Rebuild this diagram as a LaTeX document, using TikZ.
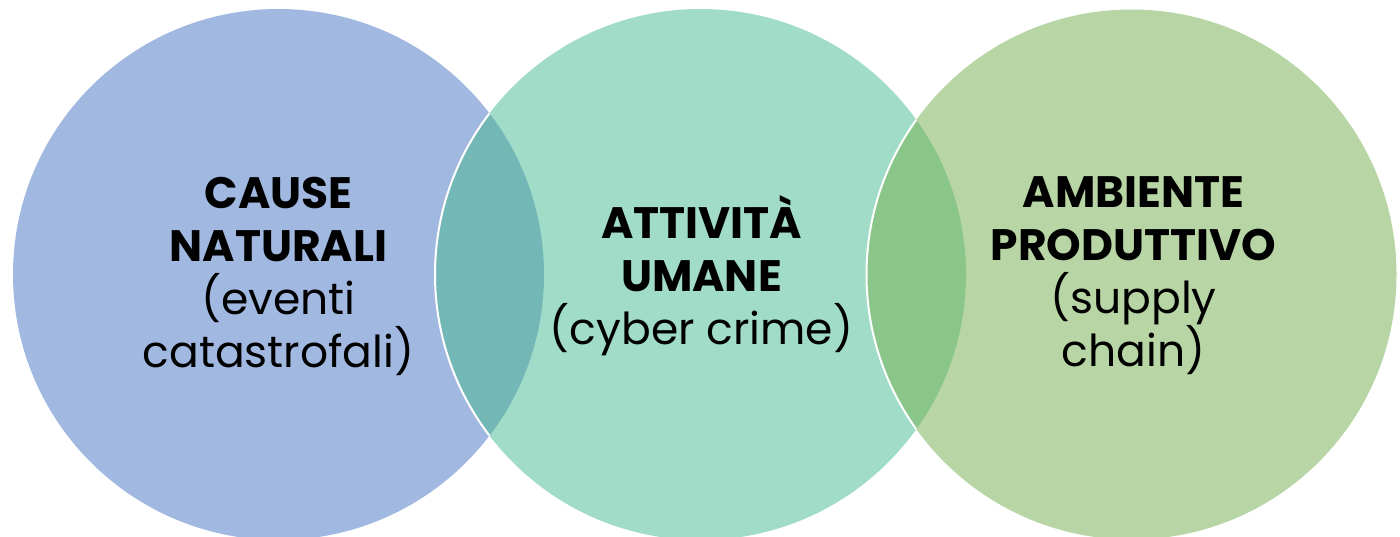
\documentclass[tikz,border=0pt]{standalone}
\usepackage{fontspec}
\setmainfont{Poppins}
\definecolor{cblue}{HTML}{A1B8E0}
\definecolor{cteal}{HTML}{A0DCC7}
\definecolor{cgreen}{HTML}{B8D6A5}
\definecolor{lensA}{HTML}{73B8B6}
\definecolor{lensB}{HTML}{8AC68A}
\tikzset{
  lbl/.style={align=center, text=black, inner sep=0pt, font=\fontsize{44}{53}\selectfont},
  edge/.style={draw=white, line width=2pt}
}
\begin{document}
\begin{tikzpicture}[x=1pt,y=-1pt]
\useasboundingbox (0,0) rectangle (1400,536);
\coordinate (cL) at (278.5,274.5);
\coordinate (cM) at (700.5,274.5);
\coordinate (cR) at (1131.5,274.5);
\begin{scope}
\clip (0,0) rectangle (1400,536);
\fill[cblue] (cL) circle (265.5);
\fill[cteal] (cM) circle (265.5);
\fill[cgreen] (cR) circle (265);
\begin{scope}
  \clip (cL) circle (265.5);
  \fill[lensA] (cM) circle (265.5);
  \draw[edge] (cM) circle (265.5);
\end{scope}
\begin{scope}
  \clip (cM) circle (265.5);
  \fill[lensB] (cR) circle (265);
  \draw[edge] (cR) circle (265);
\end{scope}
\end{scope}
\node[lbl] (tL) at (278.5,276) {\textbf{CAUSE}\\\textbf{NATURALI}\\(eventi\\catastrofali)};
\node[lbl] (tM) at (701.5,276) {\textbf{ATTIVITÀ}\\\textbf{UMANE}\\(cyber crime)};
\node[lbl] (tR) at (1133.5,276) {\textbf{AMBIENTE}\\\textbf{PRODUTTIVO}\\(supply\\chain)};
\end{tikzpicture}
\end{document}
